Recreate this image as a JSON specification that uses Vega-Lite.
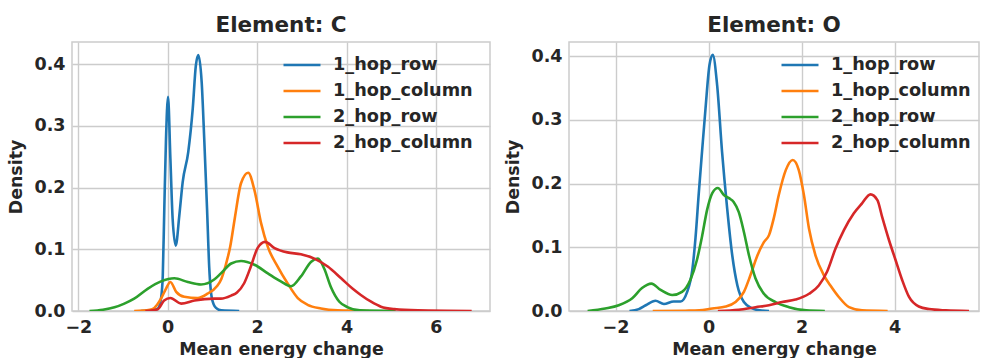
{
  "$schema": "https://vega.github.io/schema/vega-lite/v6.json",
  "background": "white",
  "padding": {"left": 7, "top": 13, "right": 0, "bottom": 0},
  "spacing": 13,
  "datasets": {
    "C": [
      {"s": "1_hop_row", "x": -0.6, "y": 0},
      {"s": "1_hop_row", "x": -0.35, "y": 0.001},
      {"s": "1_hop_row", "x": -0.22, "y": 0.004},
      {"s": "1_hop_row", "x": -0.15, "y": 0.02},
      {"s": "1_hop_row", "x": -0.11, "y": 0.058},
      {"s": "1_hop_row", "x": -0.076, "y": 0.166},
      {"s": "1_hop_row", "x": -0.04, "y": 0.274},
      {"s": "1_hop_row", "x": 0.007, "y": 0.347},
      {"s": "1_hop_row", "x": 0.06, "y": 0.247},
      {"s": "1_hop_row", "x": 0.11, "y": 0.15},
      {"s": "1_hop_row", "x": 0.18, "y": 0.106},
      {"s": "1_hop_row", "x": 0.26, "y": 0.155},
      {"s": "1_hop_row", "x": 0.335, "y": 0.209},
      {"s": "1_hop_row", "x": 0.46, "y": 0.258},
      {"s": "1_hop_row", "x": 0.56, "y": 0.328},
      {"s": "1_hop_row", "x": 0.63, "y": 0.398},
      {"s": "1_hop_row", "x": 0.685, "y": 0.415},
      {"s": "1_hop_row", "x": 0.76, "y": 0.371},
      {"s": "1_hop_row", "x": 0.82, "y": 0.274},
      {"s": "1_hop_row", "x": 0.88, "y": 0.166},
      {"s": "1_hop_row", "x": 0.93, "y": 0.069},
      {"s": "1_hop_row", "x": 0.99, "y": 0.02},
      {"s": "1_hop_row", "x": 1.08, "y": 0.005},
      {"s": "1_hop_row", "x": 1.2, "y": 0.001},
      {"s": "1_hop_row", "x": 1.6, "y": 0},

      {"s": "1_hop_column", "x": -0.75, "y": 0},
      {"s": "1_hop_column", "x": -0.4, "y": 0.002},
      {"s": "1_hop_column", "x": -0.3, "y": 0.005},
      {"s": "1_hop_column", "x": -0.15, "y": 0.02},
      {"s": "1_hop_column", "x": -0.04, "y": 0.036},
      {"s": "1_hop_column", "x": 0.06, "y": 0.047},
      {"s": "1_hop_column", "x": 0.19, "y": 0.031},
      {"s": "1_hop_column", "x": 0.37, "y": 0.023},
      {"s": "1_hop_column", "x": 0.67, "y": 0.021},
      {"s": "1_hop_column", "x": 0.89, "y": 0.028},
      {"s": "1_hop_column", "x": 1.1, "y": 0.04},
      {"s": "1_hop_column", "x": 1.2, "y": 0.052},
      {"s": "1_hop_column", "x": 1.3, "y": 0.075},
      {"s": "1_hop_column", "x": 1.4, "y": 0.105},
      {"s": "1_hop_column", "x": 1.5, "y": 0.15},
      {"s": "1_hop_column", "x": 1.64, "y": 0.207},
      {"s": "1_hop_column", "x": 1.8, "y": 0.224},
      {"s": "1_hop_column", "x": 1.94, "y": 0.196},
      {"s": "1_hop_column", "x": 2.09, "y": 0.142},
      {"s": "1_hop_column", "x": 2.24, "y": 0.104},
      {"s": "1_hop_column", "x": 2.46, "y": 0.072},
      {"s": "1_hop_column", "x": 2.68, "y": 0.045},
      {"s": "1_hop_column", "x": 2.91, "y": 0.021},
      {"s": "1_hop_column", "x": 3.13, "y": 0.01},
      {"s": "1_hop_column", "x": 3.43, "y": 0.004},
      {"s": "1_hop_column", "x": 3.8, "y": 0.001},
      {"s": "1_hop_column", "x": 4.5, "y": 0},

      {"s": "2_hop_row", "x": -1.75, "y": 0},
      {"s": "2_hop_row", "x": -1.45, "y": 0.002},
      {"s": "2_hop_row", "x": -1.19, "y": 0.006},
      {"s": "2_hop_row", "x": -0.97, "y": 0.012},
      {"s": "2_hop_row", "x": -0.75, "y": 0.02},
      {"s": "2_hop_row", "x": -0.45, "y": 0.036},
      {"s": "2_hop_row", "x": -0.15, "y": 0.048},
      {"s": "2_hop_row", "x": 0.15, "y": 0.053},
      {"s": "2_hop_row", "x": 0.45, "y": 0.047},
      {"s": "2_hop_row", "x": 0.745, "y": 0.043},
      {"s": "2_hop_row", "x": 1.04, "y": 0.051},
      {"s": "2_hop_row", "x": 1.19, "y": 0.061},
      {"s": "2_hop_row", "x": 1.42, "y": 0.077},
      {"s": "2_hop_row", "x": 1.64, "y": 0.081},
      {"s": "2_hop_row", "x": 1.94, "y": 0.075},
      {"s": "2_hop_row", "x": 2.24, "y": 0.061},
      {"s": "2_hop_row", "x": 2.53, "y": 0.048},
      {"s": "2_hop_row", "x": 2.76, "y": 0.04},
      {"s": "2_hop_row", "x": 2.98, "y": 0.056},
      {"s": "2_hop_row", "x": 3.21, "y": 0.08},
      {"s": "2_hop_row", "x": 3.36, "y": 0.085},
      {"s": "2_hop_row", "x": 3.5, "y": 0.069},
      {"s": "2_hop_row", "x": 3.65, "y": 0.039},
      {"s": "2_hop_row", "x": 3.84, "y": 0.015},
      {"s": "2_hop_row", "x": 4.03, "y": 0.006},
      {"s": "2_hop_row", "x": 4.3, "y": 0.001},
      {"s": "2_hop_row", "x": 5.1, "y": 0},

      {"s": "2_hop_column", "x": -0.5, "y": 0},
      {"s": "2_hop_column", "x": -0.22, "y": 0.003},
      {"s": "2_hop_column", "x": -0.08, "y": 0.017},
      {"s": "2_hop_column", "x": 0.06, "y": 0.021},
      {"s": "2_hop_column", "x": 0.3, "y": 0.012},
      {"s": "2_hop_column", "x": 0.6, "y": 0.017},
      {"s": "2_hop_column", "x": 1.04, "y": 0.02},
      {"s": "2_hop_column", "x": 1.19, "y": 0.02},
      {"s": "2_hop_column", "x": 1.42, "y": 0.025},
      {"s": "2_hop_column", "x": 1.55, "y": 0.03},
      {"s": "2_hop_column", "x": 1.71, "y": 0.045},
      {"s": "2_hop_column", "x": 1.86, "y": 0.072},
      {"s": "2_hop_column", "x": 2.01, "y": 0.102},
      {"s": "2_hop_column", "x": 2.18, "y": 0.112},
      {"s": "2_hop_column", "x": 2.39, "y": 0.102},
      {"s": "2_hop_column", "x": 2.68, "y": 0.095},
      {"s": "2_hop_column", "x": 2.98, "y": 0.092},
      {"s": "2_hop_column", "x": 3.28, "y": 0.085},
      {"s": "2_hop_column", "x": 3.58, "y": 0.072},
      {"s": "2_hop_column", "x": 3.88, "y": 0.053},
      {"s": "2_hop_column", "x": 4.14, "y": 0.036},
      {"s": "2_hop_column", "x": 4.32, "y": 0.026},
      {"s": "2_hop_column", "x": 4.55, "y": 0.015},
      {"s": "2_hop_column", "x": 4.77, "y": 0.007},
      {"s": "2_hop_column", "x": 5.07, "y": 0.003},
      {"s": "2_hop_column", "x": 5.6, "y": 0.001},
      {"s": "2_hop_column", "x": 6.8, "y": 0}
    ],
    "O": [
      {"s": "1_hop_row", "x": -1.7, "y": 0},
      {"s": "1_hop_row", "x": -1.5, "y": 0.003},
      {"s": "1_hop_row", "x": -1.35, "y": 0.009},
      {"s": "1_hop_row", "x": -1.14, "y": 0.016},
      {"s": "1_hop_row", "x": -0.96, "y": 0.011},
      {"s": "1_hop_row", "x": -0.75, "y": 0.015},
      {"s": "1_hop_row", "x": -0.6, "y": 0.015},
      {"s": "1_hop_row", "x": -0.46, "y": 0.03},
      {"s": "1_hop_row", "x": -0.35, "y": 0.064},
      {"s": "1_hop_row", "x": -0.28, "y": 0.115},
      {"s": "1_hop_row", "x": -0.21, "y": 0.185},
      {"s": "1_hop_row", "x": -0.14, "y": 0.25},
      {"s": "1_hop_row", "x": -0.065, "y": 0.318},
      {"s": "1_hop_row", "x": 0.02, "y": 0.386},
      {"s": "1_hop_row", "x": 0.09, "y": 0.402},
      {"s": "1_hop_row", "x": 0.185, "y": 0.354},
      {"s": "1_hop_row", "x": 0.29, "y": 0.25},
      {"s": "1_hop_row", "x": 0.4, "y": 0.161},
      {"s": "1_hop_row", "x": 0.51, "y": 0.087},
      {"s": "1_hop_row", "x": 0.62, "y": 0.04},
      {"s": "1_hop_row", "x": 0.76, "y": 0.014},
      {"s": "1_hop_row", "x": 0.94, "y": 0.004},
      {"s": "1_hop_row", "x": 1.1, "y": 0.001},
      {"s": "1_hop_row", "x": 1.3, "y": 0},

      {"s": "1_hop_column", "x": -1.2, "y": 0},
      {"s": "1_hop_column", "x": -0.5, "y": 0.0005},
      {"s": "1_hop_column", "x": -0.2, "y": 0.001},
      {"s": "1_hop_column", "x": 0.08, "y": 0.004},
      {"s": "1_hop_column", "x": 0.37, "y": 0.007},
      {"s": "1_hop_column", "x": 0.58, "y": 0.014},
      {"s": "1_hop_column", "x": 0.76, "y": 0.03},
      {"s": "1_hop_column", "x": 0.9, "y": 0.056},
      {"s": "1_hop_column", "x": 1.05, "y": 0.087},
      {"s": "1_hop_column", "x": 1.19, "y": 0.108},
      {"s": "1_hop_column", "x": 1.3, "y": 0.119},
      {"s": "1_hop_column", "x": 1.4, "y": 0.145},
      {"s": "1_hop_column", "x": 1.51, "y": 0.182},
      {"s": "1_hop_column", "x": 1.66, "y": 0.221},
      {"s": "1_hop_column", "x": 1.81, "y": 0.237},
      {"s": "1_hop_column", "x": 1.94, "y": 0.221},
      {"s": "1_hop_column", "x": 2.05, "y": 0.182},
      {"s": "1_hop_column", "x": 2.16, "y": 0.129},
      {"s": "1_hop_column", "x": 2.3, "y": 0.087},
      {"s": "1_hop_column", "x": 2.48, "y": 0.056},
      {"s": "1_hop_column", "x": 2.62, "y": 0.04},
      {"s": "1_hop_column", "x": 2.8, "y": 0.022},
      {"s": "1_hop_column", "x": 3.02, "y": 0.006},
      {"s": "1_hop_column", "x": 3.3, "y": 0.001},
      {"s": "1_hop_column", "x": 3.85, "y": 0},

      {"s": "2_hop_row", "x": -2.6, "y": 0},
      {"s": "2_hop_row", "x": -2.22, "y": 0.004},
      {"s": "2_hop_row", "x": -1.93, "y": 0.009},
      {"s": "2_hop_row", "x": -1.64, "y": 0.02},
      {"s": "2_hop_row", "x": -1.43, "y": 0.036},
      {"s": "2_hop_row", "x": -1.23, "y": 0.043},
      {"s": "2_hop_row", "x": -1.03, "y": 0.033},
      {"s": "2_hop_row", "x": -0.78, "y": 0.025},
      {"s": "2_hop_row", "x": -0.57, "y": 0.03},
      {"s": "2_hop_row", "x": -0.39, "y": 0.049},
      {"s": "2_hop_row", "x": -0.25, "y": 0.08},
      {"s": "2_hop_row", "x": -0.14, "y": 0.117},
      {"s": "2_hop_row", "x": -0.03, "y": 0.159},
      {"s": "2_hop_row", "x": 0.08, "y": 0.185},
      {"s": "2_hop_row", "x": 0.2, "y": 0.193},
      {"s": "2_hop_row", "x": 0.33, "y": 0.182},
      {"s": "2_hop_row", "x": 0.44, "y": 0.177},
      {"s": "2_hop_row", "x": 0.54, "y": 0.171},
      {"s": "2_hop_row", "x": 0.65, "y": 0.155},
      {"s": "2_hop_row", "x": 0.76, "y": 0.124},
      {"s": "2_hop_row", "x": 0.87, "y": 0.087},
      {"s": "2_hop_row", "x": 1.01, "y": 0.051},
      {"s": "2_hop_row", "x": 1.19, "y": 0.027},
      {"s": "2_hop_row", "x": 1.44, "y": 0.014},
      {"s": "2_hop_row", "x": 1.73, "y": 0.006},
      {"s": "2_hop_row", "x": 2.1, "y": 0.001},
      {"s": "2_hop_row", "x": 2.5, "y": 0},

      {"s": "2_hop_column", "x": 0.2, "y": 0},
      {"s": "2_hop_column", "x": 0.65, "y": 0.002},
      {"s": "2_hop_column", "x": 1.01, "y": 0.006},
      {"s": "2_hop_column", "x": 1.3, "y": 0.009},
      {"s": "2_hop_column", "x": 1.58, "y": 0.014},
      {"s": "2_hop_column", "x": 1.87, "y": 0.018},
      {"s": "2_hop_column", "x": 2.16, "y": 0.027},
      {"s": "2_hop_column", "x": 2.37, "y": 0.04},
      {"s": "2_hop_column", "x": 2.55, "y": 0.062},
      {"s": "2_hop_column", "x": 2.73, "y": 0.098},
      {"s": "2_hop_column", "x": 2.91, "y": 0.127},
      {"s": "2_hop_column", "x": 3.12, "y": 0.153},
      {"s": "2_hop_column", "x": 3.3, "y": 0.169},
      {"s": "2_hop_column", "x": 3.48, "y": 0.183},
      {"s": "2_hop_column", "x": 3.63, "y": 0.174},
      {"s": "2_hop_column", "x": 3.73, "y": 0.148},
      {"s": "2_hop_column", "x": 3.88, "y": 0.111},
      {"s": "2_hop_column", "x": 4.02, "y": 0.08},
      {"s": "2_hop_column", "x": 4.16, "y": 0.049},
      {"s": "2_hop_column", "x": 4.31, "y": 0.022},
      {"s": "2_hop_column", "x": 4.52, "y": 0.007},
      {"s": "2_hop_column", "x": 4.74, "y": 0.003},
      {"s": "2_hop_column", "x": 5.1, "y": 0.001},
      {"s": "2_hop_column", "x": 5.6, "y": 0}
    ]
  },
  "resolve": {"legend": {"color": "independent"}},
  "hconcat": [
    {
      "width": 418,
      "height": 269,
      "title": "Element: C",
      "data": {"name": "C"},
      "mark": {"type": "line", "clip": true, "strokeWidth": 2.6, "interpolate": "monotone"},
      "encoding": {
        "x": {"field": "x", "type": "quantitative", "scale": {"domain": [-2.141, 7.21], "nice": false, "zero": false}, "axis": {"values": [-2, 0, 2, 4, 6], "title": "Mean energy change"}},
        "y": {"field": "y", "type": "quantitative", "scale": {"domain": [0, 0.436], "nice": false}, "axis": {"values": [0, 0.1, 0.2, 0.3, 0.4], "format": ".1f", "title": "Density"}},
        "color": {"field": "s", "type": "nominal", "scale": {"domain": ["1_hop_row", "1_hop_column", "2_hop_row", "2_hop_column"], "range": ["#1f77b4", "#ff7f0e", "#2ca02c", "#d62728"]}, "legend": {"title": null, "orient": "none", "legendX": 219, "legendY": 12}}
      }
    },
    {
      "width": 410,
      "height": 269,
      "title": "Element: O",
      "data": {"name": "O"},
      "mark": {"type": "line", "clip": true, "strokeWidth": 2.6, "interpolate": "monotone"},
      "encoding": {
        "x": {"field": "x", "type": "quantitative", "scale": {"domain": [-3.0, 5.814], "nice": false, "zero": false}, "axis": {"values": [-2, 0, 2, 4], "title": "Mean energy change"}},
        "y": {"field": "y", "type": "quantitative", "scale": {"domain": [0, 0.422], "nice": false}, "axis": {"values": [0, 0.1, 0.2, 0.3, 0.4], "format": ".1f", "title": "Density"}},
        "color": {"field": "s", "type": "nominal", "scale": {"domain": ["1_hop_row", "1_hop_column", "2_hop_row", "2_hop_column"], "range": ["#1f77b4", "#ff7f0e", "#2ca02c", "#d62728"]}, "legend": {"title": null, "orient": "none", "legendX": 220, "legendY": 12}}
      }
    }
  ],
  "config": {
    "font": "DejaVu Sans",
    "view": {"stroke": "#cccccc", "strokeWidth": 1.5},
    "axis": {
      "domain": false,
      "ticks": false,
      "grid": true,
      "gridColor": "#cccccc",
      "gridWidth": 1.4,
      "labelFont": "DejaVu Sans",
      "labelFontSize": 17.5,
      "labelFontWeight": "bold",
      "labelColor": "#262626",
      "labelPadding": 7,
      "titleFont": "DejaVu Sans",
      "titleFontSize": 17.4,
      "titleFontWeight": "bold",
      "titleColor": "#262626"
    },
    "axisX": {"titlePadding": 5},
    "axisY": {"titlePadding": 8},
    "title": {"font": "DejaVu Sans", "fontSize": 21.5, "fontWeight": "bold", "color": "#262626", "offset": 6, "anchor": "middle"},
    "legend": {
      "labelFont": "DejaVu Sans",
      "labelFontSize": 17.7,
      "labelFontWeight": "bold",
      "labelColor": "#262626",
      "symbolType": "M-2,0H2",
      "symbolStrokeWidth": 2.6,
      "symbolSize": 342,
      "labelOffset": 20,
      "rowPadding": 6,
      "padding": 0
    }
  }
}
